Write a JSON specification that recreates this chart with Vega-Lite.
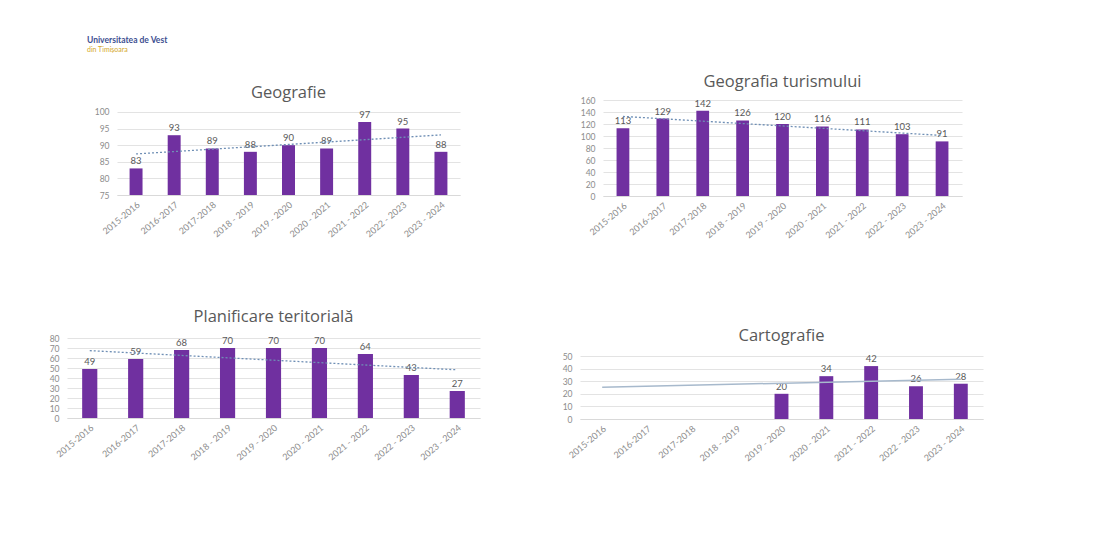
{
  "$schema": "https://vega.github.io/schema/vega-lite/v6.json",
  "background": "white",
  "padding": {"left": 5, "top": 36, "right": 5, "bottom": 5},
  "title": {
    "text": "Universitatea de Vest",
    "subtitle": "din Timișoara",
    "anchor": "start",
    "dx": 82,
    "font": "Lato",
    "fontSize": 8.5,
    "fontWeight": "bold",
    "color": "#3d4f91",
    "subtitleFont": "Lato",
    "subtitleFontSize": 7,
    "subtitleColor": "#d4a72c",
    "subtitlePadding": 1,
    "offset": 21
  },
  "datasets": {
    "years": [
      {"i": 1, "year": "2015-2016"},
      {"i": 2, "year": "2016-2017"},
      {"i": 3, "year": "2017-2018"},
      {"i": 4, "year": "2018 - 2019"},
      {"i": 5, "year": "2019 - 2020"},
      {"i": 6, "year": "2020 - 2021"},
      {"i": 7, "year": "2021 - 2022"},
      {"i": 8, "year": "2022 - 2023"},
      {"i": 9, "year": "2023 - 2024"}
    ],
    "geo": [
      {"i": 1, "year": "2015-2016", "n": 83},
      {"i": 2, "year": "2016-2017", "n": 93},
      {"i": 3, "year": "2017-2018", "n": 89},
      {"i": 4, "year": "2018 - 2019", "n": 88},
      {"i": 5, "year": "2019 - 2020", "n": 90},
      {"i": 6, "year": "2020 - 2021", "n": 89},
      {"i": 7, "year": "2021 - 2022", "n": 97},
      {"i": 8, "year": "2022 - 2023", "n": 95},
      {"i": 9, "year": "2023 - 2024", "n": 88}
    ],
    "tur": [
      {"i": 1, "year": "2015-2016", "n": 113},
      {"i": 2, "year": "2016-2017", "n": 129},
      {"i": 3, "year": "2017-2018", "n": 142},
      {"i": 4, "year": "2018 - 2019", "n": 126},
      {"i": 5, "year": "2019 - 2020", "n": 120},
      {"i": 6, "year": "2020 - 2021", "n": 116},
      {"i": 7, "year": "2021 - 2022", "n": 111},
      {"i": 8, "year": "2022 - 2023", "n": 103},
      {"i": 9, "year": "2023 - 2024", "n": 91}
    ],
    "plan": [
      {"i": 1, "year": "2015-2016", "n": 49},
      {"i": 2, "year": "2016-2017", "n": 59},
      {"i": 3, "year": "2017-2018", "n": 68},
      {"i": 4, "year": "2018 - 2019", "n": 70},
      {"i": 5, "year": "2019 - 2020", "n": 70},
      {"i": 6, "year": "2020 - 2021", "n": 70},
      {"i": 7, "year": "2021 - 2022", "n": 64},
      {"i": 8, "year": "2022 - 2023", "n": 43},
      {"i": 9, "year": "2023 - 2024", "n": 27}
    ],
    "carto": [
      {"i": 5, "year": "2019 - 2020", "n": 20},
      {"i": 6, "year": "2020 - 2021", "n": 34},
      {"i": 7, "year": "2021 - 2022", "n": 42},
      {"i": 8, "year": "2022 - 2023", "n": 26},
      {"i": 9, "year": "2023 - 2024", "n": 28}
    ],
    "empty": []
  },
  "spacing": 68,
  "vconcat": [
    {
      "spacing": 10,
      "hconcat": [
        {
          "width": 1,
          "height": 1,
          "data": {"name": "empty"},
          "mark": "point"
        },
        {
          "width": 343,
          "height": 95,
          "title": {"text": "Geografie", "offset": -1},
          "data": {"name": "geo"},
          "layer": [
            {
              "mark": {"type": "bar", "color": "#7030A0"},
              "encoding": {
                "x": {"field": "year", "type": "nominal",
                  "scale": {"domain": ["2015-2016","2016-2017","2017-2018","2018 - 2019","2019 - 2020","2020 - 2021","2021 - 2022","2022 - 2023","2023 - 2024"], "paddingInner": 0.66, "paddingOuter": 0.33},
                  "axis": {"title": null}},
                "y": {"field": "n", "type": "quantitative",
                  "scale": {"domain": [75, 103.6], "zero": false, "nice": false},
                  "axis": {"title": null, "values": [75, 80, 85, 90, 95, 100], "tickCount": 20, "minExtent": 39}},
                "y2": {"datum": 75}
              }
            },
            {
              "mark": {"type": "text", "dy": -7, "fontSize": 9.5, "color": "#595959", "font": "Lato"},
              "encoding": {
                "x": {"field": "year", "type": "nominal"},
                "y": {"field": "n", "type": "quantitative"},
                "text": {"field": "n", "type": "quantitative"}
              }
            },
            {
              "transform": [
                {"regression": "n", "on": "i", "extent": [1, 9]},
                {"lookup": "i", "from": {"data": {"name": "years"}, "key": "i", "fields": ["year"]}}
              ],
              "mark": {"type": "line", "color": "#6f8fb5", "strokeDash": [2, 2], "strokeWidth": 1.3},
              "encoding": {
                "x": {"field": "year", "type": "nominal"},
                "y": {"field": "n", "type": "quantitative"}
              }
            }
          ]
        },
        {
          "width": 359,
          "height": 96,
          "title": {"text": "Geografia turismului", "offset": 6},
          "data": {"name": "tur"},
          "layer": [
            {
              "mark": {"type": "bar", "color": "#7030A0"},
              "encoding": {
                "x": {"field": "year", "type": "nominal",
                  "scale": {"domain": ["2015-2016","2016-2017","2017-2018","2018 - 2019","2019 - 2020","2020 - 2021","2021 - 2022","2022 - 2023","2023 - 2024"], "paddingInner": 0.68, "paddingOuter": 0.34},
                  "axis": {"title": null}},
                "y": {"field": "n", "type": "quantitative",
                  "scale": {"domain": [0, 160], "nice": false},
                  "axis": {"title": null, "values": [0, 20, 40, 60, 80, 100, 120, 140, 160], "tickCount": 20, "minExtent": 133}}
              }
            },
            {
              "mark": {"type": "text", "dy": -7, "fontSize": 9.5, "color": "#595959", "font": "Lato"},
              "encoding": {
                "x": {"field": "year", "type": "nominal"},
                "y": {"field": "n", "type": "quantitative"},
                "text": {"field": "n", "type": "quantitative"}
              }
            },
            {
              "transform": [
                {"regression": "n", "on": "i", "extent": [1, 9]},
                {"lookup": "i", "from": {"data": {"name": "years"}, "key": "i", "fields": ["year"]}}
              ],
              "mark": {"type": "line", "color": "#6f8fb5", "strokeDash": [2, 2], "strokeWidth": 1.3},
              "encoding": {
                "x": {"field": "year", "type": "nominal"},
                "y": {"field": "n", "type": "quantitative"}
              }
            }
          ]
        }
      ]
    },
    {
      "spacing": 10,
      "hconcat": [
        {
          "width": 413,
          "height": 80,
          "title": {"text": "Planificare teritorială", "offset": 9},
          "data": {"name": "plan"},
          "layer": [
            {
              "mark": {"type": "bar", "color": "#7030A0"},
              "encoding": {
                "x": {"field": "year", "type": "nominal",
                  "scale": {"domain": ["2015-2016","2016-2017","2017-2018","2018 - 2019","2019 - 2020","2020 - 2021","2021 - 2022","2022 - 2023","2023 - 2024"], "paddingInner": 0.67, "paddingOuter": 0.33},
                  "axis": {"title": null}},
                "y": {"field": "n", "type": "quantitative",
                  "scale": {"domain": [0, 80], "nice": false},
                  "axis": {"title": null, "values": [0, 10, 20, 30, 40, 50, 60, 70, 80], "tickCount": 20, "minExtent": 62}}
              }
            },
            {
              "mark": {"type": "text", "dy": -7, "fontSize": 9.5, "color": "#595959", "font": "Lato"},
              "encoding": {
                "x": {"field": "year", "type": "nominal"},
                "y": {"field": "n", "type": "quantitative"},
                "text": {"field": "n", "type": "quantitative"}
              }
            },
            {
              "transform": [
                {"regression": "n", "on": "i", "extent": [1, 9]},
                {"lookup": "i", "from": {"data": {"name": "years"}, "key": "i", "fields": ["year"]}}
              ],
              "mark": {"type": "line", "color": "#6f8fb5", "strokeDash": [2, 2], "strokeWidth": 1.3},
              "encoding": {
                "x": {"field": "year", "type": "nominal"},
                "y": {"field": "n", "type": "quantitative"}
              }
            }
          ]
        },
        {
          "width": 403,
          "height": 81,
          "title": {"text": "Cartografie", "offset": -6},
          "data": {"name": "carto"},
          "layer": [
            {
              "mark": {"type": "bar", "color": "#7030A0"},
              "encoding": {
                "x": {"field": "year", "type": "nominal",
                  "scale": {"domain": ["2015-2016","2016-2017","2017-2018","2018 - 2019","2019 - 2020","2020 - 2021","2021 - 2022","2022 - 2023","2023 - 2024"], "paddingInner": 0.69, "paddingOuter": 0.34},
                  "axis": {"title": null}},
                "y": {"field": "n", "type": "quantitative",
                  "scale": {"domain": [0, 64.3], "nice": false},
                  "axis": {"title": null, "values": [0, 10, 20, 30, 40, 50], "tickCount": 20, "minExtent": 90}}
              }
            },
            {
              "mark": {"type": "text", "dy": -7, "fontSize": 9.5, "color": "#595959", "font": "Lato"},
              "encoding": {
                "x": {"field": "year", "type": "nominal"},
                "y": {"field": "n", "type": "quantitative"},
                "text": {"field": "n", "type": "quantitative"}
              }
            },
            {
              "transform": [
                {"regression": "n", "on": "i", "extent": [1, 9]},
                {"lookup": "i", "from": {"data": {"name": "years"}, "key": "i", "fields": ["year"]}}
              ],
              "mark": {"type": "line", "color": "#a7b9cc", "strokeWidth": 1.5},
              "encoding": {
                "x": {"field": "year", "type": "nominal"},
                "y": {"field": "n", "type": "quantitative"}
              }
            }
          ]
        }
      ]
    }
  ],
  "config": {
    "font": "Lato",
    "view": {"stroke": null},
    "title": {"font": "Open Sans", "fontSize": 16.5, "fontWeight": "normal", "color": "#595959", "offset": 5},
    "axis": {
      "labelFont": "Lato",
      "labelFontSize": 8.5,
      "labelColor": "#8c8c8c",
      "ticks": false,
      "gridColor": "#e3e3e3",
      "domainColor": "#d9d9d9"
    },
    "axisY": {"domain": false, "grid": true, "labelPadding": 8, "labelOverlap": false},
    "axisX": {"grid": false, "labelPadding": 5, "labelAngle": -40, "labelFontSize": 9, "labelAlign": "right", "labelBaseline": "top"}
  }
}
